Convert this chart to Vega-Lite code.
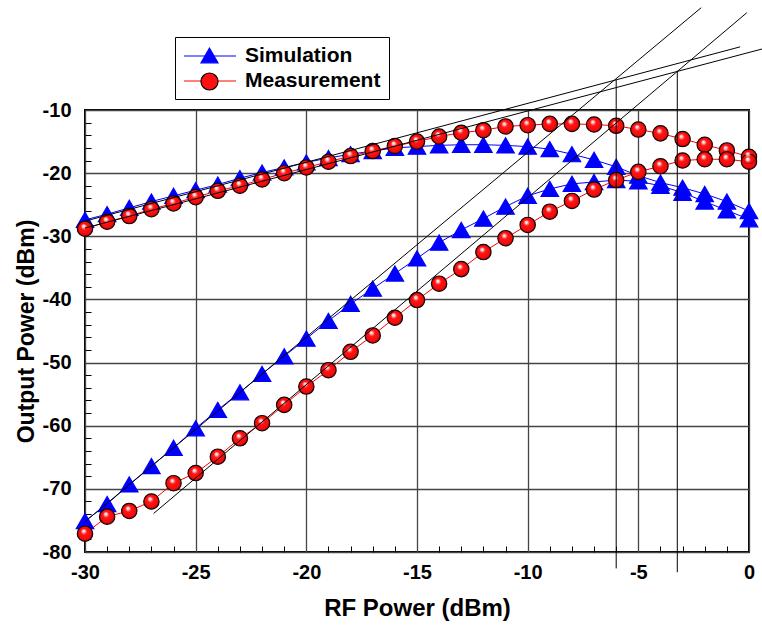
{
  "$schema": "https://vega.github.io/schema/vega-lite/v6.json",
  "width": 664,
  "height": 442,
  "autosize": "none",
  "padding": {"left": 85, "top": 110, "right": 13, "bottom": 78},
  "background": "white",
  "config": {"view": {"stroke": "black", "strokeWidth": 2}, "font": "Liberation Sans"},
  "datasets": {
    "curves": [
      {"x": -30, "y": -27.4, "series": "Simulation", "curve": "Sim fund"},
      {"x": -29, "y": -26.5, "series": "Simulation", "curve": "Sim fund"},
      {"x": -28, "y": -25.5, "series": "Simulation", "curve": "Sim fund"},
      {"x": -27, "y": -24.5, "series": "Simulation", "curve": "Sim fund"},
      {"x": -26, "y": -23.6, "series": "Simulation", "curve": "Sim fund"},
      {"x": -25, "y": -22.7, "series": "Simulation", "curve": "Sim fund"},
      {"x": -24, "y": -21.8, "series": "Simulation", "curve": "Sim fund"},
      {"x": -23, "y": -20.8, "series": "Simulation", "curve": "Sim fund"},
      {"x": -22, "y": -19.9, "series": "Simulation", "curve": "Sim fund"},
      {"x": -21, "y": -19.1, "series": "Simulation", "curve": "Sim fund"},
      {"x": -20, "y": -18.3, "series": "Simulation", "curve": "Sim fund"},
      {"x": -19, "y": -17.6, "series": "Simulation", "curve": "Sim fund"},
      {"x": -18, "y": -17.0, "series": "Simulation", "curve": "Sim fund"},
      {"x": -17, "y": -16.5, "series": "Simulation", "curve": "Sim fund"},
      {"x": -16, "y": -16.0, "series": "Simulation", "curve": "Sim fund"},
      {"x": -15, "y": -15.8, "series": "Simulation", "curve": "Sim fund"},
      {"x": -14, "y": -15.6, "series": "Simulation", "curve": "Sim fund"},
      {"x": -13, "y": -15.5, "series": "Simulation", "curve": "Sim fund"},
      {"x": -12, "y": -15.5, "series": "Simulation", "curve": "Sim fund"},
      {"x": -11, "y": -15.6, "series": "Simulation", "curve": "Sim fund"},
      {"x": -10, "y": -15.8, "series": "Simulation", "curve": "Sim fund"},
      {"x": -9, "y": -16.2, "series": "Simulation", "curve": "Sim fund"},
      {"x": -8, "y": -17.0, "series": "Simulation", "curve": "Sim fund"},
      {"x": -7, "y": -17.9, "series": "Simulation", "curve": "Sim fund"},
      {"x": -6, "y": -19.0, "series": "Simulation", "curve": "Sim fund"},
      {"x": -5, "y": -20.4, "series": "Simulation", "curve": "Sim fund"},
      {"x": -4, "y": -21.5, "series": "Simulation", "curve": "Sim fund"},
      {"x": -3, "y": -22.3, "series": "Simulation", "curve": "Sim fund"},
      {"x": -2, "y": -23.3, "series": "Simulation", "curve": "Sim fund"},
      {"x": -1, "y": -24.5, "series": "Simulation", "curve": "Sim fund"},
      {"x": 0, "y": -26.0, "series": "Simulation", "curve": "Sim fund"},
      {"x": -30, "y": -75.1, "series": "Simulation", "curve": "Sim IM3"},
      {"x": -29, "y": -72.4, "series": "Simulation", "curve": "Sim IM3"},
      {"x": -28, "y": -69.3, "series": "Simulation", "curve": "Sim IM3"},
      {"x": -27, "y": -66.4, "series": "Simulation", "curve": "Sim IM3"},
      {"x": -26, "y": -63.5, "series": "Simulation", "curve": "Sim IM3"},
      {"x": -25, "y": -60.4, "series": "Simulation", "curve": "Sim IM3"},
      {"x": -24, "y": -57.5, "series": "Simulation", "curve": "Sim IM3"},
      {"x": -23, "y": -54.7, "series": "Simulation", "curve": "Sim IM3"},
      {"x": -22, "y": -51.8, "series": "Simulation", "curve": "Sim IM3"},
      {"x": -21, "y": -49.0, "series": "Simulation", "curve": "Sim IM3"},
      {"x": -20, "y": -46.2, "series": "Simulation", "curve": "Sim IM3"},
      {"x": -19, "y": -43.4, "series": "Simulation", "curve": "Sim IM3"},
      {"x": -18, "y": -40.7, "series": "Simulation", "curve": "Sim IM3"},
      {"x": -17, "y": -38.3, "series": "Simulation", "curve": "Sim IM3"},
      {"x": -16, "y": -35.9, "series": "Simulation", "curve": "Sim IM3"},
      {"x": -15, "y": -33.5, "series": "Simulation", "curve": "Sim IM3"},
      {"x": -14, "y": -31.0, "series": "Simulation", "curve": "Sim IM3"},
      {"x": -13, "y": -29.0, "series": "Simulation", "curve": "Sim IM3"},
      {"x": -12, "y": -27.2, "series": "Simulation", "curve": "Sim IM3"},
      {"x": -11, "y": -25.3, "series": "Simulation", "curve": "Sim IM3"},
      {"x": -10, "y": -23.6, "series": "Simulation", "curve": "Sim IM3"},
      {"x": -9, "y": -22.5, "series": "Simulation", "curve": "Sim IM3"},
      {"x": -8, "y": -21.7, "series": "Simulation", "curve": "Sim IM3"},
      {"x": -7, "y": -21.4, "series": "Simulation", "curve": "Sim IM3"},
      {"x": -6, "y": -21.1, "series": "Simulation", "curve": "Sim IM3"},
      {"x": -5, "y": -21.3, "series": "Simulation", "curve": "Sim IM3"},
      {"x": -4, "y": -22.0, "series": "Simulation", "curve": "Sim IM3"},
      {"x": -3, "y": -23.1, "series": "Simulation", "curve": "Sim IM3"},
      {"x": -2, "y": -24.5, "series": "Simulation", "curve": "Sim IM3"},
      {"x": -1, "y": -25.9, "series": "Simulation", "curve": "Sim IM3"},
      {"x": 0, "y": -27.3, "series": "Simulation", "curve": "Sim IM3"},
      {"x": -30, "y": -28.8, "series": "Measurement", "curve": "Meas fund"},
      {"x": -29, "y": -27.7, "series": "Measurement", "curve": "Meas fund"},
      {"x": -28, "y": -26.8, "series": "Measurement", "curve": "Meas fund"},
      {"x": -27, "y": -25.7, "series": "Measurement", "curve": "Meas fund"},
      {"x": -26, "y": -24.8, "series": "Measurement", "curve": "Meas fund"},
      {"x": -25, "y": -23.8, "series": "Measurement", "curve": "Meas fund"},
      {"x": -24, "y": -22.8, "series": "Measurement", "curve": "Meas fund"},
      {"x": -23, "y": -22.0, "series": "Measurement", "curve": "Meas fund"},
      {"x": -22, "y": -21.0, "series": "Measurement", "curve": "Meas fund"},
      {"x": -21, "y": -20.0, "series": "Measurement", "curve": "Meas fund"},
      {"x": -20, "y": -19.1, "series": "Measurement", "curve": "Meas fund"},
      {"x": -19, "y": -18.2, "series": "Measurement", "curve": "Meas fund"},
      {"x": -18, "y": -17.3, "series": "Measurement", "curve": "Meas fund"},
      {"x": -17, "y": -16.5, "series": "Measurement", "curve": "Meas fund"},
      {"x": -16, "y": -15.7, "series": "Measurement", "curve": "Meas fund"},
      {"x": -15, "y": -15.0, "series": "Measurement", "curve": "Meas fund"},
      {"x": -14, "y": -14.2, "series": "Measurement", "curve": "Meas fund"},
      {"x": -13, "y": -13.6, "series": "Measurement", "curve": "Meas fund"},
      {"x": -12, "y": -13.2, "series": "Measurement", "curve": "Meas fund"},
      {"x": -11, "y": -12.6, "series": "Measurement", "curve": "Meas fund"},
      {"x": -10, "y": -12.4, "series": "Measurement", "curve": "Meas fund"},
      {"x": -9, "y": -12.2, "series": "Measurement", "curve": "Meas fund"},
      {"x": -8, "y": -12.2, "series": "Measurement", "curve": "Meas fund"},
      {"x": -7, "y": -12.3, "series": "Measurement", "curve": "Meas fund"},
      {"x": -6, "y": -12.5, "series": "Measurement", "curve": "Meas fund"},
      {"x": -5, "y": -13.1, "series": "Measurement", "curve": "Meas fund"},
      {"x": -4, "y": -13.7, "series": "Measurement", "curve": "Meas fund"},
      {"x": -3, "y": -14.6, "series": "Measurement", "curve": "Meas fund"},
      {"x": -2, "y": -15.5, "series": "Measurement", "curve": "Meas fund"},
      {"x": -1, "y": -16.4, "series": "Measurement", "curve": "Meas fund"},
      {"x": 0, "y": -17.4, "series": "Measurement", "curve": "Meas fund"},
      {"x": -30, "y": -77.1, "series": "Measurement", "curve": "Meas IM3"},
      {"x": -29, "y": -74.4, "series": "Measurement", "curve": "Meas IM3"},
      {"x": -28, "y": -73.5, "series": "Measurement", "curve": "Meas IM3"},
      {"x": -27, "y": -72.0, "series": "Measurement", "curve": "Meas IM3"},
      {"x": -26, "y": -69.1, "series": "Measurement", "curve": "Meas IM3"},
      {"x": -25, "y": -67.5, "series": "Measurement", "curve": "Meas IM3"},
      {"x": -24, "y": -64.9, "series": "Measurement", "curve": "Meas IM3"},
      {"x": -23, "y": -62.0, "series": "Measurement", "curve": "Meas IM3"},
      {"x": -22, "y": -59.6, "series": "Measurement", "curve": "Meas IM3"},
      {"x": -21, "y": -56.7, "series": "Measurement", "curve": "Meas IM3"},
      {"x": -20, "y": -53.8, "series": "Measurement", "curve": "Meas IM3"},
      {"x": -19, "y": -51.2, "series": "Measurement", "curve": "Meas IM3"},
      {"x": -18, "y": -48.3, "series": "Measurement", "curve": "Meas IM3"},
      {"x": -17, "y": -45.7, "series": "Measurement", "curve": "Meas IM3"},
      {"x": -16, "y": -42.9, "series": "Measurement", "curve": "Meas IM3"},
      {"x": -15, "y": -40.1, "series": "Measurement", "curve": "Meas IM3"},
      {"x": -14, "y": -37.5, "series": "Measurement", "curve": "Meas IM3"},
      {"x": -13, "y": -35.2, "series": "Measurement", "curve": "Meas IM3"},
      {"x": -12, "y": -32.5, "series": "Measurement", "curve": "Meas IM3"},
      {"x": -11, "y": -30.3, "series": "Measurement", "curve": "Meas IM3"},
      {"x": -10, "y": -28.2, "series": "Measurement", "curve": "Meas IM3"},
      {"x": -9, "y": -26.1, "series": "Measurement", "curve": "Meas IM3"},
      {"x": -8, "y": -24.4, "series": "Measurement", "curve": "Meas IM3"},
      {"x": -7, "y": -22.6, "series": "Measurement", "curve": "Meas IM3"},
      {"x": -6, "y": -21.1, "series": "Measurement", "curve": "Meas IM3"},
      {"x": -5, "y": -19.8, "series": "Measurement", "curve": "Meas IM3"},
      {"x": -4, "y": -18.9, "series": "Measurement", "curve": "Meas IM3"},
      {"x": -3, "y": -18.0, "series": "Measurement", "curve": "Meas IM3"},
      {"x": -2, "y": -17.8, "series": "Measurement", "curve": "Meas IM3"},
      {"x": -1, "y": -17.8, "series": "Measurement", "curve": "Meas IM3"},
      {"x": 0, "y": -18.2, "series": "Measurement", "curve": "Meas IM3"}
    ],
    "fits": [
      {"x": -30, "y": -27.6, "line": "a"},
      {"x": -0.4, "y": 0.0, "line": "a"},
      {"x": -30, "y": -28.7, "line": "b"},
      {"x": 0.6, "y": -0.33, "line": "b"},
      {"x": -30, "y": -75.2, "line": "c"},
      {"x": -2.16, "y": 6.2, "line": "c"},
      {"x": -26.9, "y": -73.9, "line": "d"},
      {"x": -0.1, "y": 5.4, "line": "d"},
      {"x": -6, "y": -5.25, "line": "e"},
      {"x": -6, "y": -82.6, "line": "e"},
      {"x": -3.24, "y": -3.8, "line": "f"},
      {"x": -3.24, "y": -83.2, "line": "f"}
    ]
  },
  "resolve": {"axis": {"x": "independent", "y": "independent"}},
  "layer": [
    {
      "data": {"name": "curves"},
      "mark": {"type": "line", "strokeWidth": 1},
      "encoding": {
        "x": {"field": "x", "type": "quantitative", "scale": {"domain": [-30, 0], "nice": false, "zero": false}, "axis": null},
        "y": {"field": "y", "type": "quantitative", "scale": {"domain": [-80, -10], "nice": false, "zero": false}, "axis": null},
        "color": {
          "field": "series", "type": "nominal",
          "scale": {"domain": ["Simulation", "Measurement"], "range": ["#0000ff", "#ff0000"]},
          "legend": {
            "orient": "none", "legendX": 90, "legendY": -73, "title": null,
            "symbolType": "M-2.6,0H2.6", "symbolSize": 400, "symbolStrokeWidth": 1.2, "symbolOffset": 16,
            "labelOffset": 24, "labelFont": "Liberation Sans", "labelFontWeight": "bold", "labelFontSize": 21,
            "labelColor": "black", "labelLimit": 400, "padding": 8, "rowPadding": 4,
            "strokeColor": "black"
          }
        },
        "detail": {"field": "curve"}
      }
    },
    {
      "data": {"name": "curves"},
      "mark": {"type": "point", "filled": true, "opacity": 1, "strokeWidth": 1.2},
      "encoding": {
        "x": {
          "field": "x", "type": "quantitative", "scale": {"domain": [-30, 0], "nice": false, "zero": false},
          "axis": {
            "orient": "bottom", "values": [-30, -25, -20, -15, -10, -5, 0], "labelExpr": "'' + datum.value",
            "grid": true, "gridColor": "#444444", "gridWidth": 1.3, "ticks": false, "domain": false,
            "labelFont": "Liberation Sans", "labelFontWeight": "bold", "labelFontSize": 20, "labelColor": "black",
            "labelPadding": 10, "labelFlush": false, "labelOverlap": false,
            "title": "RF Power (dBm)", "titleFont": "Liberation Sans", "titleFontWeight": "bold", "titleFontSize": 24,
            "titleColor": "black", "titlePadding": 14
          }
        },
        "y": {
          "field": "y", "type": "quantitative", "scale": {"domain": [-80, -10], "nice": false, "zero": false},
          "axis": {
            "orient": "left", "values": [-80, -70, -60, -50, -40, -30, -20, -10], "labelExpr": "'' + datum.value",
            "grid": true, "gridColor": "#444444", "gridWidth": 1.3, "ticks": false, "domain": false,
            "labelFont": "Liberation Sans", "labelFontWeight": "bold", "labelFontSize": 20, "labelColor": "black",
            "labelPadding": 14, "labelFlush": false, "labelOverlap": false,
            "title": "Output Power (dBm)", "titleFont": "Liberation Sans", "titleFontWeight": "bold", "titleFontSize": 23,
            "titleColor": "black", "titlePadding": 4
          }
        },
        "shape": {
          "field": "series", "type": "nominal", "sort": "descending",
          "scale": {"range": ["triangle-up", "circle"]},
          "legend": {
            "orient": "none", "legendX": 90, "legendY": -73, "title": null,
            "symbolSize": 290, "symbolOffset": 16, "symbolOpacity": 1, "symbolStrokeWidth": 1.2,
            "labelOffset": 24, "labelFont": "Liberation Sans", "labelFontWeight": "bold", "labelFontSize": 21,
            "labelExpr": "''", "labelLimit": 400, "padding": 8, "rowPadding": 4
          }
        },
        "fill": {
          "field": "series", "type": "nominal", "sort": "descending",
          "scale": {"range": ["#0000ff", "#ff1010"]},
          "legend": {
            "orient": "none", "legendX": 90, "legendY": -73, "title": null,
            "symbolSize": 290, "symbolOffset": 16, "symbolOpacity": 1, "symbolStrokeWidth": 1.2,
            "labelOffset": 24, "labelFont": "Liberation Sans", "labelFontWeight": "bold", "labelFontSize": 21,
            "labelExpr": "''", "labelLimit": 400, "padding": 8, "rowPadding": 4
          }
        },
        "stroke": {
          "field": "series", "type": "nominal", "sort": "descending",
          "scale": {"range": ["#0000ff", "#000000"]},
          "legend": {
            "orient": "none", "legendX": 90, "legendY": -73, "title": null,
            "symbolSize": 290, "symbolOffset": 16, "symbolOpacity": 1, "symbolStrokeWidth": 1.2,
            "labelOffset": 24, "labelFont": "Liberation Sans", "labelFontWeight": "bold", "labelFontSize": 21,
            "labelExpr": "''", "labelLimit": 400, "padding": 8, "rowPadding": 4
          }
        },
        "size": {"condition": {"test": "datum.series === 'Measurement'", "value": 235}, "value": 305}
      }
    },
    {
      "data": {"name": "curves"},
      "transform": [{"filter": "datum.series === 'Measurement'"}],
      "mark": {
        "type": "point", "shape": "circle", "filled": true, "opacity": 1, "size": 231, "strokeWidth": 0,
        "fill": {"gradient": "radial", "x1": 0.4, "y1": 0.3, "r1": 0, "x2": 0.5, "y2": 0.5, "r2": 0.55,
          "stops": [
            {"offset": 0, "color": "rgba(255,255,255,1)"},
            {"offset": 0.18, "color": "rgba(255,225,225,0.85)"},
            {"offset": 0.45, "color": "rgba(255,0,0,0)"},
            {"offset": 0.8, "color": "rgba(160,0,0,0.25)"},
            {"offset": 1, "color": "rgba(70,0,0,0.8)"}
          ]}
      },
      "encoding": {
        "x": {"field": "x", "type": "quantitative", "scale": {"domain": [-30, 0], "nice": false, "zero": false}, "axis": null},
        "y": {"field": "y", "type": "quantitative", "scale": {"domain": [-80, -10], "nice": false, "zero": false}, "axis": null}
      }
    },
    {
      "data": {"name": "fits"},
      "mark": {"type": "line", "color": "black", "strokeWidth": 1, "clip": false},
      "encoding": {
        "x": {
          "field": "x", "type": "quantitative", "scale": {"domain": [-30, 0], "nice": false, "zero": false},
          "axis": {
            "orient": "bottom", "values": [-29, -28, -27, -26, -24, -23, -22, -21, -19, -18, -17, -16, -14, -13, -12, -11, -9, -8, -7, -6, -4, -3, -2, -1],
            "ticks": true, "tickSize": -6, "tickColor": "black", "tickWidth": 1, "labels": false, "grid": false, "domain": false, "title": null
          }
        },
        "y": {
          "field": "y", "type": "quantitative", "scale": {"domain": [-80, -10], "nice": false, "zero": false},
          "axis": {
            "orient": "left", "values": [-78, -76, -74, -72, -68, -66, -64, -62, -58, -56, -54, -52, -48, -46, -44, -42, -38, -36, -34, -32, -28, -26, -24, -22, -18, -16, -14, -12],
            "ticks": true, "tickSize": -6, "tickColor": "black", "tickWidth": 1, "labels": false, "grid": false, "domain": false, "title": null
          }
        },
        "detail": {"field": "line"}
      }
    }
  ]
}
